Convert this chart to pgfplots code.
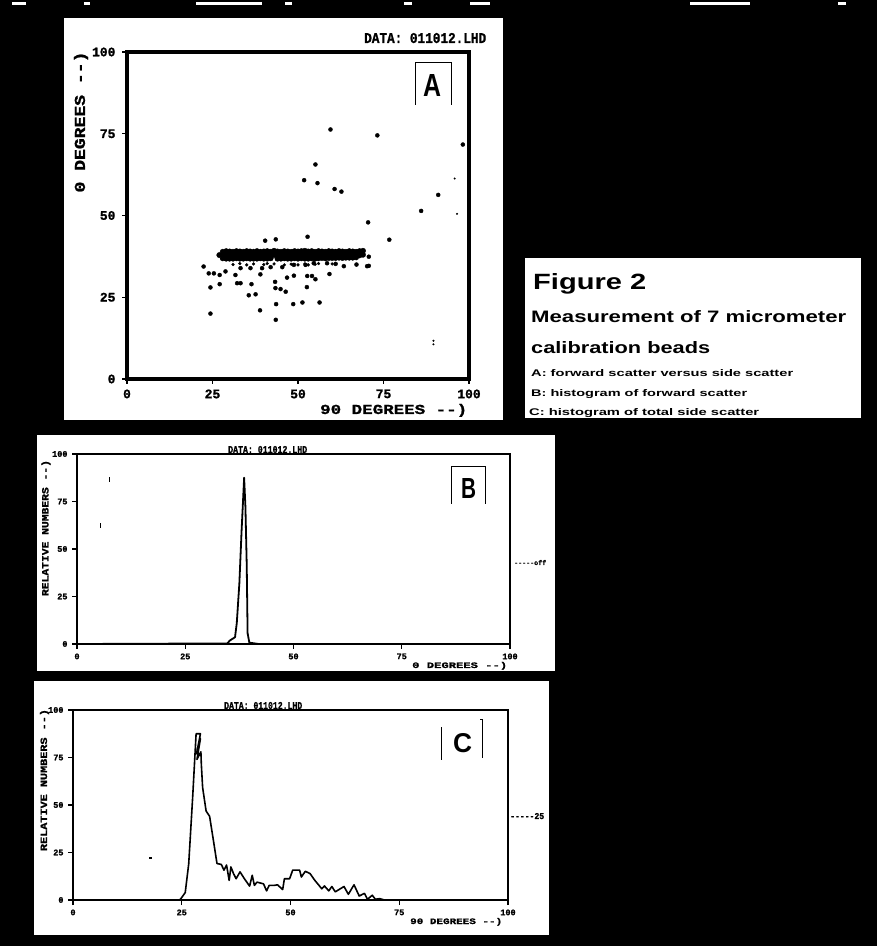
\documentclass[border=0pt]{standalone}
\usepackage{pgfplots}
\pgfplotsset{compat=1.18}
\usepackage{graphicx}
\usepackage{fontspec}
\setmainfont{Liberation Sans}
\newfontfamily\mono{Liberation Mono Bold}[FakeBold=1.2]
\newcommand{\Tx}[5]{\node[anchor=base west,inner sep=0pt,black] at (#1pt,{(946-#2)*1pt}) {\resizebox{#3pt}{#4pt}{#5}};}
\newcommand{\Ty}[5]{\node[anchor=center,inner sep=0pt,rotate=90,black] at (#1pt,{(946-#2)*1pt}) {\resizebox{#3pt}{#4pt}{#5}};}
\pgfplotsset{
  panel/.style={
    scale only axis, xmin=0, xmax=100, ymin=0, ymax=100,
    xtick={0,25,50,75,100}, ytick={0,25,50,75,100},
    tick align=outside, tick pos=left,
    xticklabels={0,25,50,75,100}, yticklabels={0,25,50,75,100},
    axis line style={line width=#1, black},
    tick style={line width=1.2pt, black},
    major tick length=5pt,
    /pgf/number format/assume math mode=true,
  },
}
\begin{document}
\begin{tikzpicture}
\useasboundingbox (0pt,0pt) rectangle (877pt,946pt);
\fill[black] (0pt,0pt) rectangle (877pt,946pt);
% specks of the scan along the top edge
\foreach \a/\b in {12/26,84/90,196/262,285/292,404/412,470/490,690/750,838/846}
  \fill[white] (\a pt,941pt) rectangle (\b pt,944pt);
% white panels
\fill[white] (64pt,{(946-420)*1pt}) rectangle (503pt,{(946-18)*1pt});
\fill[white] (37pt,{(946-671)*1pt}) rectangle (555pt,{(946-435)*1pt});
\fill[white] (34pt,{(946-935)*1pt}) rectangle (549pt,{(946-681)*1pt});
\fill[white] (525pt,{(946-418)*1pt}) rectangle (861pt,{(946-258)*1pt});

% ---------- A ----------
\begin{axis}[panel=3.2pt, at={(127pt,567pt)}, anchor=south west, width=342pt, height=327pt,
  tick label style={font=\mono\fontsize{13}{13}\selectfont},
  xticklabel style={yshift=-2pt}, yticklabel style={xshift=-3pt}]
\addplot[only marks, mark=*, mark size=2pt, black, mark options={draw=black,fill=black}] coordinates {
(59.5,76.3)(73.2,74.5)(98.2,71.7)(55.1,65.6)(51.8,60.8)(55.7,59.9)(60.7,58.1)(62.7,57.3)
(91,56.3)(86,51.4)(70.5,47.9)(76.7,42.6)(52.8,43.5)(43.5,42.7)(40.4,42.3)
(22.4,34.4)(23.9,32.3)(25.4,32.3)(27.1,31.8)(28.8,32.9)(31.7,31.8)(24.4,28)(27.1,29)
(32.2,29.3)(33.2,29.3)(36.4,29)(35.6,25.6)(37.6,25.9)(38.9,21)(24.4,20)(43.5,18.1)
(43.6,22.9)(48.6,22.9)(51.3,23.4)(56.3,23.4)(43.3,29.7)(43.4,27.8)(44.9,27.5)(46.4,26.7)
(52.6,28.1)(46.8,31)(48.8,31.6)(52.7,31.5)(54.1,31.5)(55.1,30.5)(59.2,32.1)(63.4,34.5)
(67.1,35)(70.2,34.5)(70.7,34.6)(70.7,37.4)(33.2,33.9)(36.1,33.9)(39,32)(39.5,33.9)
(42,34.2)(45.4,34.2)(48.8,34.9)(52.2,34.9)(54.6,35.4)(58.5,35.4)(61,35.2)
};
\addplot[only marks, mark=*, mark size=2.7pt, black, mark options={draw=black,fill=black}] coordinates {
(28,38.9)(29,39.1)(30,39)(31,38.9)(32,39.1)(33,39)(34,38.9)(35,39.1)(36,39)(37,38.9)
(38,39.1)(39,38.9)(40,39)(41,39.1)(42,38.9)(43,39.2)(44,39)(45,38.9)(46,39.1)(47,39)
(48,38.9)(49,39.1)(50,39)(51,39.1)(52,39.2)(53,39)(54,39.1)(55,38.9)(56,39.1)(57,39)
(58,38.9)(59,39.1)(60,39)(61,38.9)(62,39.1)(63,39)(64,38.9)(65,39.1)(66,39)(67,38.9)
(68,39.1)(69,39.2)
(27,37.9)(28,37.8)(29,37.9)(30,38)(31,37.9)(32,37.8)(33,38)(34,37.9)(35,37.8)
(36,38)(37,37.9)(38,37.8)(39,38)(40,37.9)(41,37.8)(42,38)(43,37.9)(44,37.8)(45,38)
(46,37.9)(47,37.8)(48,38)(49,37.9)(50,37.8)(51,38)(52,37.9)(53,37.8)(54,38)(55,37.9)
(56,37.8)(57,38)(58,37.9)(59,37.8)(60,38)(61,37.9)(62,37.8)(63,38)(64,37.9)(65,37.8)
(66,38)(67,37.9)(68,37.8)(69,38)
(28,36.9)(29,36.8)(30,36.8)(31,36.8)(32,36.9)(33,36.8)(34,36.8)(35,36.9)
(36,36.8)(37,36.8)(38,36.8)(39,36.9)(40,36.8)(41,36.8)(42,36.9)(44,36.8)(45,36.8)
(46,36.9)(47,36.8)(48,36.8)(49,36.9)(50,36.8)(51,36.9)(52,36.8)(53,36.8)(54,36.9)
(55,36.8)(56,36.9)(57,37)(58,36.9)(59,37)(60,37)(61,37)(62,37.1)(63,37)
(64,37.1)(65,37.1)(66,37.1)(67,37.2)
};
\addplot[only marks, mark=*, mark size=1.4pt, black, mark options={draw=black,fill=black}] coordinates {
(31,35)(33,35.3)(35,34.9)(37,35.2)(40,35)(41,35.3)(43,35.2)(46,34.9)(48,35.1)
(50,34.9)(52,35.2)(53,34.9)(55,35.1)(56,35.3)(60,35.2)
};
\addplot[only marks, mark=*, mark size=0.8pt, black, mark options={draw=black,fill=black}] coordinates {
(89.6,11.7)(89.6,10.6)(95.8,61.3)(96.5,50.5)
};
\end{axis}

% ---------- B ----------
\begin{axis}[panel=2pt, at={(77pt,302pt)}, anchor=south west, width=433pt, height=190pt,
  tick label style={font=\mono\fontsize{8.5}{8.5}\selectfont},
  xticklabel style={yshift=-1pt}, yticklabel style={xshift=-1pt}]
\addplot[line width=1.8pt, black, line join=round] coordinates {
(0,0)(34.7,0.3)(35.3,1.8)(36.5,3.6)(36.9,11)(37.5,32)(38,59)(38.6,87.5)(38.9,72)(39.2,41.5)(39.4,5.7)(39.8,0.7)(42,0)(100,0)
};
\end{axis}

% ---------- C ----------
\begin{axis}[panel=2pt, at={(73pt,46pt)}, anchor=south west, width=435pt, height=190pt,
  tick label style={font=\mono\fontsize{8.5}{8.5}\selectfont},
  xticklabel style={yshift=-1pt}, yticklabel style={xshift=-1pt}]
\addplot[line width=1.6pt, black, line join=round] coordinates {
(0,0)(24.5,0)(24.8,0.7)(25.8,3.9)(26.6,19)(27.5,53.7)(28.3,87.5)(29.3,87.5)(28.4,77)(29.3,85)(28.5,74)(29.4,78)(29.5,71.5)(29.8,59.2)
(30.6,46.8)(31.4,44.1)(32.2,32.5)(33.1,19.2)(34.1,18.7)(34.7,15.7)(35.3,18.4)(35.9,10.3)
(36.3,17.4)(36.9,13.9)(37.5,11.2)(38.4,14.8)(39.4,11.2)(40.6,7.3)(41.2,13)(41.7,7.7)
(42.3,9.4)(43.8,8.5)(44.5,4.8)(45.1,7.7)(46.3,7.7)(47,8)(48.2,5.5)(48.6,11.2)(49.8,11.2)
(50.5,15.7)(52.1,15.7)(52.5,12.1)(53.4,15.1)(54.5,13.9)(55.6,10.3)(57.2,5.9)(57.8,7.4)
(58.8,4.8)(59.5,7.1)(60.3,4.3)(62.3,7.1)(63.3,3)(64.6,8)(65.8,2.1)(67,3.5)(67.7,0.4)
(68.8,2.5)(69.5,0.4)(70.5,0.7)(71.6,0)(100,0)
};
\end{axis}

% specks
\fill[black] (108.5pt,{(946-482)*1pt}) rectangle (110pt,{(946-477)*1pt});
\fill[black] (99.5pt,{(946-528)*1pt}) rectangle (101pt,{(946-523)*1pt});
\fill[black] (149pt,{(946-859)*1pt}) rectangle (151.5pt,{(946-857)*1pt});

% ---------- labels A ----------
\Tx{364}{43}{122}{10}{\mono DATA: 011012.LHD}
\Tx{320}{414}{147}{10}{\mono 90 DEGREES -{}-)}
\Ty{81}{122}{141}{11}{\mono 0 DEGREES -{}-)}
% panel letters
\Tx{423}{97}{18}{22}{\bfseries A}
\Tx{461}{499}{15}{20}{\bfseries B}
\Tx{453}{753}{19}{19}{\bfseries C}
\draw[line width=1pt] (415pt,{(946-105)*1pt}) -- (415pt,{(946-63)*1pt}) -- (451pt,{(946-63)*1pt}) -- (451pt,{(946-105)*1pt});
\draw[line width=1pt] (451pt,{(946-504)*1pt}) -- (451pt,{(946-467)*1pt}) -- (485pt,{(946-467)*1pt}) -- (485pt,{(946-504)*1pt});
\draw[line width=1pt] (441pt,{(946-760)*1pt}) -- (441pt,{(946-727)*1pt});
\draw[line width=1pt] (480pt,{(946-720)*1pt}) -- (482pt,{(946-720)*1pt}) -- (482pt,{(946-758)*1pt});

% ---------- labels B ----------
\Tx{228}{453}{79}{7}{\mono DATA: 011012.LHD}
\Tx{412}{668}{95}{6}{\mono 0 DEGREES -{}-)}
\Ty{46}{528}{136}{7}{\mono RELATIVE NUMBERS -{}-)}
\Tx{514}{565}{32}{5}{\mono -----off}

% ---------- labels C ----------
\Tx{224}{709}{78}{7}{\mono DATA: 011012.LHD}
\Tx{410}{924}{92}{6}{\mono 90 DEGREES -{}-)}
\Ty{44.5}{780}{142}{7}{\mono RELATIVE NUMBERS -{}-)}
\Tx{510}{819}{34}{6}{\mono -----25}

% ---------- caption ----------
\Tx{533}{290}{113}{16}{\bfseries Figure 2}
\Tx{531}{323}{315}{12}{\bfseries Measurement of 7 micrometer}
\Tx{531}{354}{179}{12}{\bfseries calibration beads}
\Tx{531}{377}{262}{7}{\bfseries A: forward scatter versus side scatter}
\Tx{531}{397}{216}{7}{\bfseries B: histogram of forward scatter}
\Tx{529}{416}{230}{7}{\bfseries C: histogram of total side scatter}
\end{tikzpicture}
\end{document}
